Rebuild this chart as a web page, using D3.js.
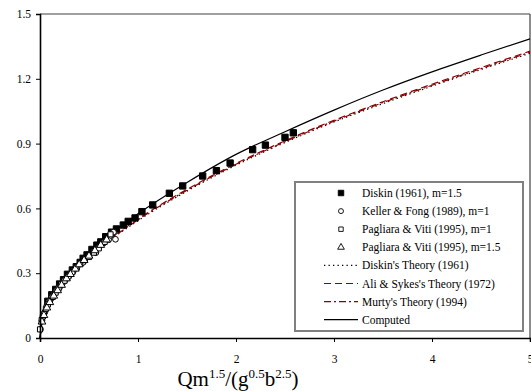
<!DOCTYPE html>
<html>
<head>
<meta charset="utf-8">
<script src="https://cdn.jsdelivr.net/npm/d3@7"></script>
<style>
  body { margin: 0; background: #fff; }
  text { font-family: "Liberation Serif", "Times New Roman", serif; }
</style>
</head>
<body>
<div id="main"></div>
<script>
// measured data (x, y)
const diskinPts = [
    [0.08,0.17],[0.12,0.2],[0.16,0.225],[0.2,0.25],[0.24,0.27],[0.28,0.295],[0.33,0.315],
    [0.37,0.33],[0.41,0.35],[0.44,0.369],[0.48,0.385],[0.53,0.41],[0.58,0.43],[0.62,0.445],
    [0.67,0.469],[0.73,0.49],[0.78,0.505],[0.85,0.523],[0.9,0.54],[0.97,0.556],[1.04,0.585],
    [1.15,0.616],[1.32,0.67],[1.456,0.704],[1.66,0.75],[1.80,0.775],[1.94,0.81],[2.17,0.872],
    [2.30,0.893],[2.50,0.929],[2.585,0.95]
];
const kellerPts = [
    [0.005,0.04],[0.02,0.08],[0.03,0.1],[0.05,0.12],[0.07,0.15],[0.09,0.17],[0.11,0.18],
    [0.14,0.2],[0.17,0.22],[0.2,0.235],[0.23,0.255],[0.26,0.27],[0.3,0.29],[0.34,0.31],
    [0.38,0.33],[0.42,0.345],[0.46,0.365],[0.5,0.38],[0.55,0.4],[0.6,0.42],[0.65,0.44],
    [0.7,0.455],[0.75,0.49],[0.77,0.457],[0.72,0.475],[0.57,0.395],[0.44,0.35],[0.32,0.3],
    [0.12,0.19],[0.08,0.155]
];
const pagliara1Pts = [
    [0.0,0.04],[0.017,0.083],[0.03,0.1],[0.04,0.11],[0.06,0.135],[0.08,0.155],[0.1,0.17],
    [0.13,0.19],[0.16,0.21],[0.19,0.23],[0.22,0.25],[0.25,0.265],[0.29,0.285],[0.33,0.305],
    [0.37,0.325],[0.41,0.345],[0.45,0.36],[0.5,0.375],[0.55,0.395],[0.6,0.415],[0.66,0.445],
    [0.72,0.48]
];
const pagliara15Pts = [
    [0.02,0.075],[0.04,0.105],[0.07,0.14],[0.1,0.165],[0.14,0.195],[0.18,0.22],[0.22,0.245],
    [0.27,0.275],[0.31,0.295],[0.36,0.32],[0.4,0.34],[0.45,0.36],[0.5,0.38],[0.56,0.405],
    [0.62,0.43],[0.68,0.455]
];

const curveX       = [0, 0.02, 0.05, 0.1, 0.2, 0.3, 0.5, 0.75, 1, 1.5, 2, 2.5, 3, 3.5, 4, 4.5, 5];
const computedY    = [0, 0.075, 0.13, 0.182, 0.252, 0.308, 0.4, 0.492, 0.575, 0.72, 0.85, 0.955, 1.055, 1.148, 1.232, 1.31, 1.385];
const diskinThY    = [0, 0.07, 0.12, 0.172, 0.238, 0.29, 0.378, 0.465, 0.543, 0.68, 0.8, 0.905, 1.0, 1.085, 1.166, 1.243, 1.318];
const aliSykesY    = [0, 0.072, 0.123, 0.175, 0.242, 0.294, 0.384, 0.472, 0.551, 0.688, 0.808, 0.913, 1.008, 1.094, 1.175, 1.252, 1.328];
const murtyY       = [0, 0.071, 0.122, 0.174, 0.24, 0.292, 0.381, 0.468, 0.547, 0.684, 0.804, 0.909, 1.004, 1.09, 1.17, 1.247, 1.323];

const xTicks = [0, 1, 2, 3, 4, 5];
const yTicks = [0, 0.3, 0.6, 0.9, 1.2, 1.5];

const width = 531, height = 391;
const margin = { top: 14, bottom: 53, left: 40, right: 1 };

const svg = d3.select('#main').append('svg').attr('width', width).attr('height', height);

const xScale = d3.scaleLinear().domain([0, 5]).range([margin.left, width - margin.right]);
const yScale = d3.scaleLinear().domain([0, 1.5]).range([height - margin.bottom, margin.top]);

const red = '#8b0000';

// plot border (top / right)
svg.append('line')
    .attr('x1', xScale(0)).attr('x2', xScale(5))
    .attr('y1', yScale(1.5)).attr('y2', yScale(1.5))
    .style('stroke', '#808080').style('stroke-width', 1.5);
svg.append('line')
    .attr('x1', xScale(5)).attr('x2', xScale(5))
    .attr('y1', yScale(1.5)).attr('y2', yScale(0))
    .style('stroke', '#404040').style('stroke-width', 1.2);

// lines
const series = [
    { name: "Diskin's Theory (1961)",     ys: diskinThY, color: '#000', dash: '1.3,3.2' },
    { name: "Ali & Sykes's Theory (1972)", ys: aliSykesY, color: red,   dash: '7,4' },
    { name: "Murty's Theory (1994)",       ys: murtyY,    color: red,   dash: '7,3,2,3' },
    { name: 'Computed',                    ys: computedY, color: '#000', dash: null }
];

const line = d3.line()
    .x(d => xScale(d[0]))
    .y(d => yScale(d[1]))
    .curve(d3.curveMonotoneX);

series.forEach(s => {
    svg.append('path')
        .datum(curveX.map((x, i) => [x, s.ys[i]]))
        .attr('d', line)
        .style('fill', 'none')
        .style('stroke', s.color)
        .style('stroke-width', 1.2)
        .style('stroke-dasharray', s.dash);
});

// markers
const markers = [
    { name: 'Diskin (1961), m=1.5',           pts: diskinPts,     type: d3.symbolSquare,   size: 40, fill: '#000' },
    { name: 'Keller & Fong (1989), m=1',       pts: kellerPts,     type: d3.symbolCircle,   size: 26, fill: '#fff' },
    { name: 'Pagliara & Viti (1995), m=1',     pts: pagliara1Pts,  type: d3.symbolSquare,   size: 26, fill: '#fff' },
    { name: 'Pagliara & Viti (1995), m=1.5',   pts: pagliara15Pts, type: d3.symbolTriangle, size: 26, fill: '#fff' }
];

markers.forEach(m => {
    svg.append('g').selectAll('path')
        .data(m.pts)
        .enter()
        .append('path')
            .attr('transform', d => `translate(${xScale(d[0])},${yScale(d[1])})`)
            .attr('d', d3.symbol().type(m.type).size(m.size))
            .style('fill', m.fill)
            .style('stroke', '#000')
            .style('stroke-width', 1);
});

// axes
const yAxis = svg.append('g')
    .attr('transform', `translate(${margin.left},0)`)
    .call(d3.axisLeft(yScale).tickValues(yTicks).tickSize(4).tickPadding(5).tickFormat(d3.format('')));
const xAxis = svg.append('g')
    .attr('transform', `translate(0,${height - margin.bottom})`)
    .call(d3.axisBottom(xScale).tickValues(xTicks).tickSize(4).tickPadding(13).tickFormat(d3.format('')));

[xAxis, yAxis].forEach(a => {
    a.attr('font-family', null);
    a.select('.domain').style('stroke', '#000').style('stroke-width', 1.6);
    a.selectAll('.tick line').style('stroke', '#000');
    a.selectAll('text')
        .style('font-family', '"Liberation Serif", "Times New Roman", serif')
        .style('font-size', '11.5px')
        .style('fill', '#000');
});

// axis title
const title = svg.append('text')
    .attr('x', 238)
    .attr('y', 386)
    .style('font-size', '21px')
    .style('text-anchor', 'middle');
title.append('tspan').text('Qm');
title.append('tspan').attr('dy', -8).style('font-size', '13px').text('1.5');
title.append('tspan').attr('dy', 8).text('/(g');
title.append('tspan').attr('dy', -8).style('font-size', '13px').text('0.5');
title.append('tspan').attr('dy', 8).text('b');
title.append('tspan').attr('dy', -8).style('font-size', '13px').text('2.5');
title.append('tspan').attr('dy', 8).text(')');

// legend
const legend = svg.append('g');
legend.append('rect')
    .attr('x', 295).attr('y', 182)
    .attr('width', 228).attr('height', 149)
    .style('fill', '#fff')
    .style('stroke', '#808080')
    .style('stroke-width', 2);

const rowY = i => 193 + i * 18.1;

markers.forEach((m, i) => {
    legend.append('path')
        .attr('transform', `translate(341,${rowY(i)})`)
        .attr('d', d3.symbol().type(m.type).size(m.size * 0.75))
        .style('fill', m.fill)
        .style('stroke', '#000')
        .style('stroke-width', 0.9);
    legend.append('text')
        .attr('x', 362).attr('y', rowY(i))
        .attr('dy', '0.35em')
        .style('font-size', '11.5px')
        .text(m.name);
});

series.forEach((s, j) => {
    const i = j + 4;
    legend.append('line')
        .attr('x1', 324).attr('x2', 358)
        .attr('y1', rowY(i)).attr('y2', rowY(i))
        .style('stroke', s.color)
        .style('stroke-width', 1.2)
        .style('stroke-dasharray', s.dash);
    legend.append('text')
        .attr('x', 362).attr('y', rowY(i))
        .attr('dy', '0.35em')
        .style('font-size', '11.5px')
        .text(s.name);
});
</script>
</body>
</html>
